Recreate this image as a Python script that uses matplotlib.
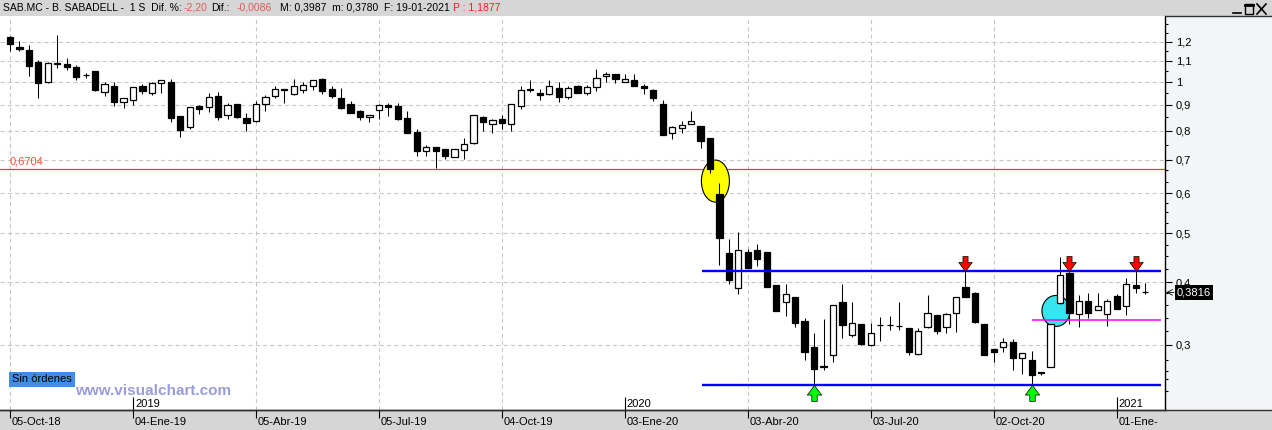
import matplotlib
matplotlib.use("Agg")
import matplotlib.pyplot as plt
import matplotlib.dates as mdates
import matplotlib.transforms as mtransforms
from matplotlib.patches import Ellipse, Rectangle
from matplotlib.path import Path
from matplotlib.lines import Line2D
from matplotlib.ticker import FixedLocator, NullFormatter
import numpy as np
import pandas as pd

plt.rcParams['font.family'] = ['Liberation Sans', 'DejaVu Sans']

# weekly candles SAB.MC, oct-2018 .. jan-2021
dates = pd.date_range("2018-10-05", periods=121, freq="W-FRI")
opens = [1.225, 1.172, 1.157, 1.095, 0.999, 1.089, 1.085, 1.070, 1.031, 1.051,
         0.956, 0.981, 0.913, 0.921, 0.979, 0.951, 0.993, 0.999, 0.855, 0.812,
         0.895, 0.890, 0.936, 0.858, 0.903, 0.847, 0.835, 0.902, 0.938, 0.966,
         0.944, 0.962, 0.981, 1.012, 0.967, 0.928, 0.902, 0.875, 0.850, 0.881,
         0.899, 0.895, 0.846, 0.795, 0.728, 0.741, 0.735, 0.708, 0.731, 0.756,
         0.850, 0.823, 0.843, 0.823, 0.895, 0.966, 0.949, 0.944, 0.970, 0.931,
         0.979, 0.951, 0.975, 1.027, 1.035, 0.998, 1.007, 0.981, 0.963, 0.905,
         0.790, 0.808, 0.823, 0.817, 0.774, 0.598, 0.457, 0.390, 0.459, 0.463,
         0.459, 0.395, 0.366, 0.374, 0.335, 0.297, 0.271, 0.286, 0.365, 0.314,
         0.330, 0.300, 0.329, 0.329, 0.327, 0.324, 0.288, 0.325, 0.344, 0.325,
         0.347, 0.391, 0.381, 0.330, 0.294, 0.297, 0.304, 0.282, 0.280, 0.264,
         0.271, 0.363, 0.417, 0.345, 0.367, 0.352, 0.345, 0.375, 0.359, 0.3945,
         0.383]
highs = [1.234, 1.205, 1.183, 1.105, 1.093, 1.238, 1.114, 1.080, 1.043, 1.051,
         1.000, 0.998, 0.929, 0.978, 0.991, 0.998, 1.008, 1.012, 0.855, 0.890,
         0.899, 0.950, 0.953, 0.908, 0.903, 0.867, 0.916, 0.940, 0.979, 0.966,
         1.012, 0.998, 1.008, 1.016, 0.981, 0.972, 0.915, 0.879, 0.859, 0.902,
         0.908, 0.908, 0.875, 0.805, 0.748, 0.741, 0.735, 0.737, 0.772, 0.858,
         0.855, 0.843, 0.859, 0.902, 0.981, 1.007, 0.966, 1.007, 1.001, 0.979,
         0.984, 0.984, 1.058, 1.046, 1.035, 1.035, 1.038, 0.990, 0.967, 0.921,
         0.818, 0.837, 0.875, 0.817, 0.775, 0.630, 0.487, 0.503, 0.465, 0.476,
         0.459, 0.395, 0.397, 0.374, 0.339, 0.317, 0.338, 0.360, 0.397, 0.365,
         0.330, 0.332, 0.341, 0.343, 0.365, 0.324, 0.324, 0.377, 0.344, 0.348,
         0.374, 0.422, 0.382, 0.330, 0.294, 0.310, 0.308, 0.289, 0.292, 0.265,
         0.330, 0.448, 0.446, 0.377, 0.381, 0.381, 0.370, 0.379, 0.407, 0.422,
         0.3987]
lows = [1.153, 1.153, 1.028, 0.929, 0.996, 1.066, 1.056, 1.009, 1.018, 0.960,
        0.938, 0.896, 0.888, 0.899, 0.947, 0.941, 0.950, 0.833, 0.778, 0.804,
        0.864, 0.872, 0.840, 0.844, 0.847, 0.799, 0.831, 0.876, 0.929, 0.909,
        0.943, 0.951, 0.963, 0.947, 0.929, 0.882, 0.866, 0.840, 0.833, 0.843,
        0.856, 0.840, 0.792, 0.713, 0.713, 0.675, 0.701, 0.708, 0.702, 0.753,
        0.800, 0.792, 0.805, 0.799, 0.885, 0.953, 0.922, 0.943, 0.913, 0.924,
        0.949, 0.943, 0.960, 1.001, 0.996, 0.998, 0.982, 0.946, 0.917, 0.785,
        0.770, 0.792, 0.823, 0.739, 0.659, 0.433, 0.397, 0.379, 0.427, 0.431,
        0.392, 0.351, 0.343, 0.326, 0.280, 0.250, 0.268, 0.277, 0.310, 0.311,
        0.300, 0.298, 0.306, 0.321, 0.321, 0.286, 0.287, 0.324, 0.316, 0.317,
        0.319, 0.374, 0.331, 0.286, 0.278, 0.291, 0.267, 0.263, 0.248, 0.262,
        0.271, 0.362, 0.330, 0.326, 0.340, 0.352, 0.327, 0.354, 0.344, 0.381,
        0.378]
closes = [1.187, 1.163, 1.076, 0.996, 1.088, 1.087, 1.071, 1.020, 1.032, 0.963,
          0.989, 0.913, 0.927, 0.975, 0.960, 0.993, 1.007, 0.848, 0.802, 0.890,
          0.885, 0.933, 0.852, 0.899, 0.851, 0.829, 0.902, 0.933, 0.966, 0.962,
          0.979, 0.984, 1.007, 0.960, 0.938, 0.888, 0.868, 0.852, 0.858, 0.898,
          0.890, 0.843, 0.792, 0.730, 0.741, 0.730, 0.713, 0.735, 0.751, 0.858,
          0.831, 0.840, 0.829, 0.902, 0.962, 0.962, 0.941, 0.979, 0.934, 0.970,
          0.951, 0.975, 1.018, 1.038, 1.012, 1.014, 0.982, 0.970, 0.929, 0.785,
          0.812, 0.819, 0.835, 0.762, 0.671, 0.489, 0.403, 0.463, 0.427, 0.445,
          0.392, 0.351, 0.378, 0.332, 0.291, 0.269, 0.272, 0.360, 0.328, 0.331,
          0.302, 0.317, 0.329, 0.329, 0.327, 0.290, 0.320, 0.348, 0.320, 0.345,
          0.374, 0.374, 0.333, 0.287, 0.290, 0.304, 0.282, 0.289, 0.262, 0.265,
          0.330, 0.413, 0.348, 0.367, 0.348, 0.358, 0.367, 0.354, 0.397, 0.3902,
          0.3816]

tick_labels = ['05-Oct-18', '04-Ene-19', '05-Abr-19', '05-Jul-19', '04-Oct-19',
               '03-Ene-20', '03-Abr-20', '03-Jul-20', '02-Oct-20', '01-Ene-']
year_labels = {1: '2019', 5: '2020', 9: '2021'}
price_ticks = [0.3, 0.4, 0.5, 0.6, 0.7, 0.8, 0.9, 1.0, 1.1, 1.2]
minor_ticks = [0.2433, 0.2567, 0.2667, 0.28, 0.32, 0.34, 0.36, 0.38, 0.425, 0.45,
               0.475, 0.525, 0.55, 0.575, 0.6333, 0.6667, 0.75, 0.85, 0.95, 1.05,
               1.15, 1.25, 1.3]

ref_level = 0.6704
resistance = 0.42
support = 0.25
magenta_level = 0.336
channel_span = ("2020-02-29", "2021-02-03")
magenta_span = ("2020-10-30", "2021-02-03")
down_arrow_bars = [101, 112, 119]
up_arrow_bars = [85, 108]
ellipses = [("2020-03-10", 0.635, "#ffff00"), ("2020-11-17", 0.3505, "#38e4ee")]
ellipse_px = [(28, 42), (28, 31)]

W, H = 1272, 430
fig = plt.figure(figsize=(W / 100, H / 100), dpi=100, facecolor='#d6d6d6')
ax = fig.add_axes([0, 20 / H, 1165 / W, 394 / H])
ax.set_facecolor('white')

# light right-hand price panel
fig.patches.append(Rectangle((1166 / W, 20 / H), 106 / W, 394 / H, transform=fig.transFigure,
                             facecolor='#f3f6f6', edgecolor='none', zorder=-1))

x = mdates.date2num(dates)
o = np.array(opens); h = np.array(highs); l = np.array(lows); c = np.array(closes)
d0 = x[0]
ax.set_xlim(d0 - 7.4, d0 + 854.7)
ax.set_yscale('log')
ax.set_ylim(0.2228, 1.3513)

# grid
grid_kw = dict(color='#c6c6c6', lw=0.75, ls=(0, (4, 3)), zorder=1)
for v in price_ticks:
    ax.axhline(v, **grid_kw)
tick_x = x[::13]
for k, xv in enumerate(tick_x):
    if k not in year_labels:
        ax.axvline(xv, **grid_kw)

# candles
up = c >= o
ax.vlines(x, l, h, color='black', lw=0.75, zorder=3)
lo = np.minimum(o, c)
hi = np.maximum(o, c)
ax.bar(x, hi - lo, bottom=lo, width=4.6, color=np.where(up, 'white', 'black'),
       edgecolor='black', linewidth=0.9, zorder=4)

# reference level
ax.axhline(ref_level, color='#e8401c', lw=0.9, zorder=2)
ax.annotate('0,6704', xy=(d0, ref_level), xytext=(0, 2), textcoords='offset points',
            color='#ff5030', fontsize=8, ha='left', va='bottom')

# channel lines
cs = mdates.date2num(pd.to_datetime(list(channel_span)))
ax.hlines([resistance, support], cs[0], cs[1], color='#0000ff', lw=1.7, zorder=5)
ms_ = mdates.date2num(pd.to_datetime(list(magenta_span)))
ax.hlines(magenta_level, ms_[0], ms_[1], color='#ff00ff', lw=1.1, zorder=5)

# ellipses
for (d, p, col), (wp, hp) in zip(ellipses, ellipse_px):
    tr = fig.dpi_scale_trans + mtransforms.ScaledTranslation(
        mdates.date2num(pd.Timestamp(d)), p, ax.transData)
    ax.add_patch(Ellipse((0, 0), wp / 100, hp / 100, transform=tr, facecolor=col,
                         edgecolor='black', lw=0.8, zorder=2.5))

# arrows
down_path = Path([(0, 0), (0.45, 0.6), (0.17, 0.6), (0.17, 1), (-0.17, 1),
                  (-0.17, 0.6), (-0.45, 0.6), (0, 0)], closed=True)
up_path = Path([(0, 0), (0.45, -0.6), (0.17, -0.6), (0.17, -1), (-0.17, -1),
                (-0.17, -0.6), (-0.45, -0.6), (0, 0)], closed=True)
ax.plot(x[down_arrow_bars], [resistance] * len(down_arrow_bars), ls='none', marker=down_path,
        ms=21.6, mfc='#ff0000', mec='black', mew=0.5, zorder=6)
ax.plot(x[up_arrow_bars], [support] * len(up_arrow_bars), ls='none', marker=up_path,
        ms=23, mfc='#00ff00', mec='black', mew=0.5, zorder=6)

# axes styling
for s in ['left', 'top']:
    ax.spines[s].set_visible(False)
ax.spines['right'].set_linewidth(1.0)
ax.spines['bottom'].set_linewidth(1.0)
ax.yaxis.tick_right()
ax.set_yticks(price_ticks)
ax.set_yticklabels([f'{v:g}'.replace('.', ',') for v in price_ticks])
ax.yaxis.set_minor_locator(FixedLocator(minor_ticks))
ax.yaxis.set_minor_formatter(NullFormatter())
ax.tick_params(axis='y', which='major', length=5, width=0.8, pad=3, labelsize=8)
ax.tick_params(axis='y', which='minor', length=2.4, width=0.8)
ax.set_xticks(tick_x)
ax.set_xticklabels([])
ax.tick_params(axis='x', which='major', length=6, width=0.8, direction='out')
ax.xaxis.set_minor_locator(FixedLocator([]))

xt = ax.get_xaxis_transform()
for k, (xv, lab) in enumerate(zip(tick_x, tick_labels)):
    ax.text(xv + 1.5, -12 / 394, lab, transform=xt, ha='left', va='center', fontsize=8,
            clip_on=False)
    if k in year_labels:
        ax.vlines(xv, 0, 13 / 394, transform=xt, color='black', lw=0.8, zorder=5)
        ax.text(xv + 1.5, 6 / 394, year_labels[k], transform=xt, ha='left', va='center',
                fontsize=8, zorder=5)

# bottom-left boxes
ax.text(12 / 1165, (410 - 379.5) / 394, 'Sin órdenes', transform=ax.transAxes, fontsize=8,
        ha='left', va='center', zorder=7,
        bbox=dict(boxstyle='square,pad=0.25', facecolor='#3d8fe6', edgecolor='none'))
ax.text(75 / 1165, (410 - 391) / 394, 'www.visualchart.com', transform=ax.transAxes,
        fontsize=11, fontweight='bold', color='#9c9cd8', ha='left', va='center', zorder=7)

# last price box
btr = mtransforms.blended_transform_factory(fig.transFigure, ax.transData)
fig.text(1177 / W, closes[-1], '0,3816', transform=btr, color='white', fontsize=8,
         ha='left', va='center',
         bbox=dict(boxstyle='square,pad=0.2', facecolor='black', edgecolor='none'))
ax.annotate('', xy=(1166, closes[-1]), xytext=(1174, closes[-1]),
            xycoords=('figure pixels', 'data'), textcoords=('figure pixels', 'data'),
            arrowprops=dict(arrowstyle='->', lw=0.6, color='black', shrinkA=0, shrinkB=0))

# panel borders
fig.lines.append(Line2D([0, 1], [20 / H, 20 / H], transform=fig.transFigure, color='#303030', lw=1))
fig.lines.append(Line2D([1166 / W, 1], [414 / H, 414 / H], transform=fig.transFigure,
                        color='#303030', lw=1))

# header
hy = (H - 8) / H
header = [(3, 'SAB.MC - B. SABADELL -  1 S  Dif. %:', 'black'),
          (184, '-2,20', '#e05a5a'),
          (211, 'Dif.:', 'black'),
          (237, '-0,0086', '#e05a5a'),
          (280, 'M: 0,3987  m: 0,3780  F: 19-01-2021', 'black'),
          (453, 'P : 1,1877', '#ff1a1a')]
for px, txt, col in header:
    fig.text(px / W, hy, txt, color=col, fontsize=7.5, ha='left', va='center')

# window buttons
fig.lines.append(Line2D([1233 / W, 1241 / W], [(H - 13) / H] * 2, transform=fig.transFigure,
                        color='black', lw=1.2))
fig.patches.append(Rectangle((1245 / W, (H - 14) / H), 8 / W, 10 / H, transform=fig.transFigure,
                             facecolor='none', edgecolor='black', lw=1))
fig.lines.append(Line2D([1245 / W, 1253 / W], [(H - 5) / H] * 2, transform=fig.transFigure,
                        color='black', lw=2))
fig.lines.append(Line2D([1257 / W, 1266 / W], [(H - 4) / H, (H - 14) / H],
                        transform=fig.transFigure, color='black', lw=1.2))
fig.lines.append(Line2D([1257 / W, 1266 / W], [(H - 14) / H, (H - 4) / H],
                        transform=fig.transFigure, color='black', lw=1.2))

fig.savefig('out.png', dpi=100, facecolor=fig.get_facecolor())
